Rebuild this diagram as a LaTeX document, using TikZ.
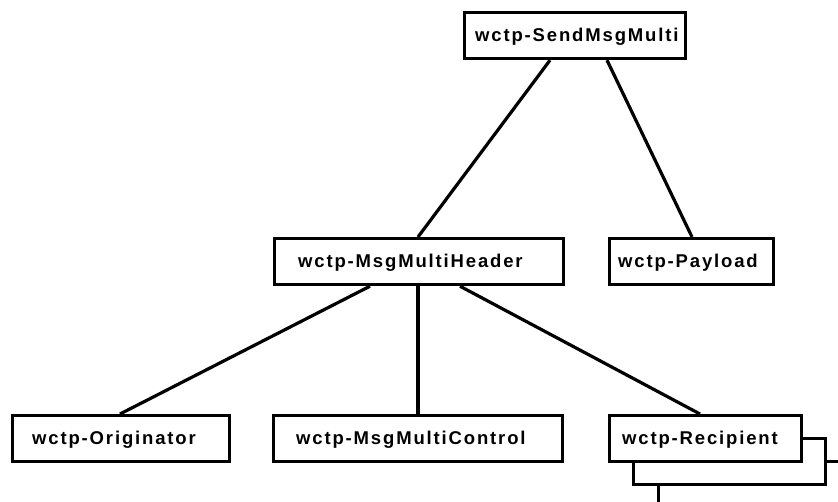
\documentclass[tikz,border=0pt]{standalone}
\usepackage{fontspec}
\setmainfont{Liberation Sans}[LetterSpace=10]
\begin{document}
\begin{tikzpicture}[x=1pt,y=-1pt,
  box/.style={draw,line width=3.2pt,fill=white,inner sep=0pt,anchor=north west,
    minimum height=46pt},
  lbl/.style={anchor=west,inner sep=0pt,yshift=-1.5pt,
    font=\fontsize{18.5}{20}\selectfont\bfseries},
  link/.style={line width=3.2pt}]
\useasboundingbox (0,0) rectangle (838,502);
\clip (0,0) rectangle (838,502);
% boxes
\node[box,minimum width=221pt] (send) at (463,11) {};
\node[box,minimum width=289pt] (hdr) at (273,237) {};
\node[box,minimum width=164pt] (pay) at (608,237) {};
\node[box,minimum width=217pt] (orig) at (11,414) {};
\node[box,minimum width=289pt] (ctrl) at (272,414) {};
% stacked recipient
\node[box,minimum width=192pt] (rec3) at (657,460) {};
\node[box,minimum width=192pt] (rec2) at (632,437) {};
\node[box,minimum width=192pt] (rec) at (608,414) {};
% labels
\node[lbl] (sendT) at ([xshift=12pt]send.west) {wctp-SendMsgMulti};
\node[lbl] (hdrT) at ([xshift=25pt]hdr.west) {wctp-MsgMultiHeader};
\node[lbl] (payT) at ([xshift=10pt]pay.west) {wctp-Payload};
\node[lbl] (origT) at ([xshift=21pt]orig.west) {wctp-Originator};
\node[lbl] (ctrlT) at ([xshift=24pt]ctrl.west) {wctp-MsgMultiControl};
\node[lbl] (recT) at ([xshift=14pt]rec.west) {wctp-Recipient};
% connectors
\draw[link] ([xshift=87pt]send.south west) -- (hdr.north west -| 418,0);
\draw[link] ([xshift=144pt]send.south west) -- (pay.north west -| 692,0);
\draw[link] ([xshift=97pt]hdr.south west) -- (orig.north west -| 120,0);
\draw[link] ([xshift=145pt]hdr.south west) -- (ctrl.north west -| 418,0);
\draw[link] ([xshift=187pt]hdr.south west) -- (rec.north west -| 700,0);
\end{tikzpicture}
\end{document}
